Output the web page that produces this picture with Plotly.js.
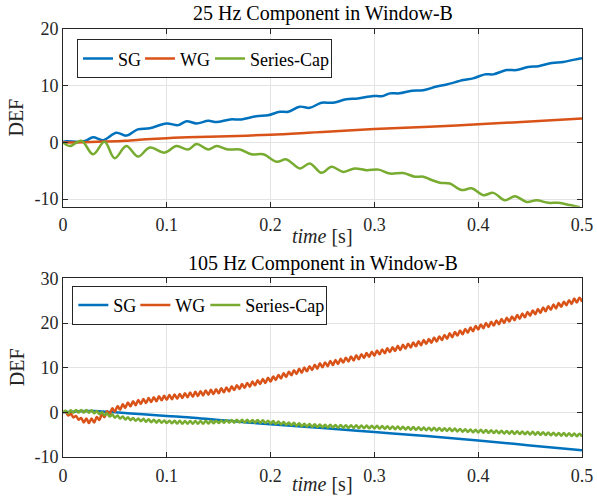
<!DOCTYPE html>
<html>
<head>
<meta charset="utf-8">
<script src="https://cdn.plot.ly/plotly-3.0.1.min.js"></script>
<style>html,body{margin:0;padding:0;background:#fff;}#chart{width:597px;height:497px;}</style>
</head>
<body>
<div id="chart"></div>
<script>
// ---------- Top panel: 25 Hz component ----------
var topSG_t = [0, 0.0032, 0.016, 0.022, 0.029, 0.0386, 0.0514, 0.061, 0.072, 0.0836, 0.0997, 0.111, 0.119, 0.1286, 0.14, 0.148, 0.161, 0.172, 0.186, 0.1976, 0.209, 0.217, 0.228, 0.2378, 0.249, 0.26, 0.273, 0.284, 0.299, 0.307, 0.315, 0.324, 0.336, 0.347, 0.36, 0.3696, 0.3856, 0.395, 0.4065, 0.4145, 0.4274, 0.437, 0.448, 0.458, 0.471, 0.482, 0.498, 0.5];
var topSG_v = [0.1, 0.2, 0.1, 0.3, 0.9, 0.4, 1.7, 1.2, 2.3, 2.5, 3.35, 3.05, 3.75, 3.35, 3.8, 3.6, 4.05, 4.05, 4.6, 4.8, 5.4, 5.4, 6.3, 6.1, 7.0, 7.0, 7.6, 7.75, 8.2, 8.15, 8.65, 8.65, 9.1, 9.2, 9.85, 10.2, 11.0, 11.3, 12.0, 12.0, 12.75, 12.75, 13.3, 13.45, 14.0, 14.2, 14.8, 14.85];

var topWG_t = [0, 0.02, 0.04, 0.06, 0.08, 0.1, 0.12, 0.15, 0.2, 0.236, 0.25, 0.3, 0.353, 0.4, 0.45, 0.5];
var topWG_v = [0, 0.05, 0.15, 0.3, 0.55, 0.75, 0.9, 1.05, 1.35, 1.7, 1.85, 2.35, 2.75, 3.2, 3.7, 4.2];

var topSC_t = [0, 0.0065, 0.0177, 0.029, 0.040, 0.0498, 0.061, 0.0723, 0.0836, 0.098, 0.1093, 0.1205, 0.1286, 0.14, 0.148, 0.159, 0.1703, 0.1816, 0.193, 0.2057, 0.2153, 0.2282, 0.2378, 0.249, 0.2587, 0.27, 0.281, 0.2925, 0.304, 0.315, 0.3277, 0.339, 0.347, 0.3534, 0.363, 0.3727, 0.384, 0.3937, 0.405, 0.4145, 0.4258, 0.4354, 0.4467, 0.4563, 0.4675, 0.4772, 0.4884, 0.498];
var topSC_v = [0, -0.65, 0.3, -2.1, 0.1, -2.8, -0.65, -2.5, -0.9, -1.8, -0.65, -1.25, -0.3, -1.25, -0.65, -1.25, -1.25, -2.1, -2.1, -3.4, -3.0, -4.6, -3.7, -5.35, -4.3, -5.2, -4.6, -4.9, -4.8, -5.5, -5.4, -6.05, -6.05, -6.5, -7.1, -7.25, -8.4, -8.1, -9.3, -8.9, -10.2, -9.5, -10.5, -10.2, -10.65, -10.65, -11.05, -11.45];

// ---------- Bottom panel: 105 Hz component ----------
var botSG_t = [0, 0.015, 0.03, 0.045, 0.06, 0.077, 0.1, 0.12, 0.14, 0.16, 0.18, 0.2, 0.25, 0.3, 0.35, 0.4, 0.45, 0.5];
var botSG_v = [0, 0.25, 0.3, 0.1, -0.15, -0.4, -0.8, -1.1, -1.5, -1.9, -2.3, -2.65, -3.5, -4.4, -5.3, -6.3, -7.4, -8.5];

// sampled every 2.5 ms (ripple peaks / troughs)
var botStep = 0.0025;
var botWG_v = [0, 0.1, -0.7, -0.3, -1.15, -0.8, -1.65, -1.25, -2.25, -1.35, -2.4, -1.4, -2.25, -1.05, -1.7, -0.4, -1.1, 0.25, -0.4, 0.9,
 0.15, 1.4, 0.6, 1.8, 1.0, 2.2, 1.35, 2.5, 1.6, 2.75, 1.9, 3.0, 2.1, 3.2, 2.3, 3.4, 2.5, 3.6, 2.7, 3.75,
 2.8, 3.9, 2.95, 4.0, 3.05, 4.1, 3.2, 4.3, 3.4, 4.45, 3.5, 4.6, 3.65, 4.75, 3.8, 4.9, 3.95, 5.05, 4.1, 5.2,
 4.3, 5.4, 4.5, 5.6, 4.7, 5.85, 5.0, 6.1, 5.25, 6.35, 5.5, 6.6, 5.75, 6.9, 6.05, 7.2, 6.35, 7.5, 6.6, 7.75,
 6.9, 8.05, 7.25, 8.4, 7.6, 8.75, 7.95, 9.1, 8.3, 9.45, 8.6, 9.75, 8.9, 10.05, 9.2, 10.35, 9.5, 10.65, 9.8, 11.0,
 10.1, 11.2, 10.35, 11.5, 10.6, 11.75, 10.85, 12.0, 11.15, 12.25, 11.4, 12.5, 11.65, 12.8, 11.9, 13.05, 12.2, 13.3, 12.45, 13.6,
 12.7, 13.85, 13.0, 14.1, 13.25, 14.35, 13.5, 14.6, 13.75, 14.9, 14.0, 15.15, 14.3, 15.4, 14.55, 15.65, 14.8, 15.95, 15.05, 16.2,
 15.35, 16.45, 15.6, 16.75, 15.9, 17.0, 16.2, 17.35, 16.5, 17.7, 16.85, 18.0, 17.2, 18.35, 17.5, 18.7, 17.85, 19.0, 18.2, 19.35,
 18.55, 19.7, 18.85, 20.0, 19.15, 20.3, 19.45, 20.6, 19.75, 20.9, 20.05, 21.2, 20.35, 21.5, 20.65, 21.8, 21.0, 22.15, 21.3, 22.5,
 21.65, 22.8, 22.0, 23.15, 22.3, 23.5, 22.65, 23.8, 23.0, 24.15, 23.3, 24.5, 23.65, 24.8, 24.0, 25.15, 24.3, 25.5, 24.6, 25.7,
 24.8];
var botSC_v = [0, 0.35, -0.2, 0.45, -0.1, 0.55, -0.05, 0.55, -0.05, 0.55, -0.1, 0.45, -0.2, 0.3, -0.4, 0.05, -0.65, -0.2, -0.95, -0.5,
 -1.2, -0.7, -1.4, -0.9, -1.6, -1.1, -1.75, -1.25, -1.9, -1.35, -2.0, -1.45, -2.1, -1.55, -2.2, -1.65, -2.3, -1.7, -2.35, -1.8,
 -2.4, -1.85, -2.45, -1.9, -2.5, -1.9, -2.55, -1.95, -2.55, -1.95, -2.55, -1.95, -2.55, -1.95, -2.55, -1.9, -2.5, -1.9, -2.45, -1.85,
 -2.4, -1.8, -2.35, -1.75, -2.3, -1.7, -2.3, -1.65, -2.25, -1.65, -2.25, -1.65, -2.25, -1.7, -2.3, -1.7, -2.35, -1.75, -2.4, -1.85,
 -2.5, -1.95, -2.6, -2.05, -2.7, -2.15, -2.8, -2.25, -2.9, -2.35, -3.0, -2.45, -3.1, -2.55, -3.15, -2.6, -3.25, -2.65, -3.3, -2.7,
 -3.35, -2.76, -3.38, -2.79, -3.4, -2.81, -3.43, -2.84, -3.45, -2.86, -3.48, -2.89, -3.5, -2.91, -3.53, -2.94, -3.55, -2.96, -3.58, -2.99,
 -3.6, -3.02, -3.64, -3.06, -3.68, -3.1, -3.72, -3.14, -3.76, -3.18, -3.8, -3.22, -3.84, -3.26, -3.88, -3.3, -3.92, -3.34, -3.96, -3.38,
 -4.0, -3.42, -4.04, -3.46, -4.08, -3.5, -4.12, -3.54, -4.15, -3.58, -4.21, -3.64, -4.27, -3.7, -4.33, -3.76, -4.39, -3.82, -4.45, -3.87,
 -4.5, -3.92, -4.55, -3.97, -4.59, -4.01, -4.64, -4.06, -4.68, -4.1, -4.73, -4.15, -4.77, -4.19, -4.82, -4.24, -4.86, -4.28, -4.91, -4.33,
 -4.95, -4.37, -5.0, -4.42, -5.04, -4.46, -5.09, -4.51, -5.13, -4.55, -5.18, -4.6, -5.22, -4.64, -5.27, -4.69, -5.31, -4.73, -5.36, -4.78,
 -5.4];
var botGrid = [];
for (var i = 0; i < botWG_v.length; i++) botGrid.push(+(i * botStep).toFixed(4));

// ---------- labels / ticks ----------
var seriesNames = ['SG', 'WG', 'Series-Cap'];
var seriesColors = ['#0072BD', '#D95319', '#77AC30'];
var legendWidths = [17, 25, 76];
var xTickVals = [0, 0.1, 0.2, 0.3, 0.4, 0.5];
var xTickText = ['0', '0.1', '0.2', '0.3', '0.4', '0.5'];
var yTopTickVals = [-10, 0, 10, 20];
var yTopTickText = ['-10', '0', '10', '20'];
var yBotTickVals = [-10, 0, 10, 20, 30];
var yBotTickText = ['-10', '0', '10', '20', '30'];
var titleTop = '25 Hz Component in Window-B';
var titleBot = '105 Hz Component in Window-B';

var FONT = '"Liberation Serif", serif';
var AXC = '#262626';

function tr(x, y, k, xa, ya, leg) {
  return {x: x, y: y, type: 'scatter', mode: 'lines', name: seriesNames[k],
    xaxis: xa, yaxis: ya, legend: leg, legendwidth: legendWidths[k],
    line: {color: seriesColors[k], width: 2.5, shape: 'spline', smoothing: 1, simplify: false},
    hoverinfo: 'skip'};
}

var data = [
  tr(topSG_t, topSG_v, 0, 'x', 'y', 'legend'),
  tr(topWG_t, topWG_v, 1, 'x', 'y', 'legend'),
  tr(topSC_t, topSC_v, 2, 'x', 'y', 'legend'),
  tr(botSG_t, botSG_v, 0, 'x2', 'y2', 'legend2'),
  tr(botGrid, botWG_v, 1, 'x2', 'y2', 'legend2'),
  tr(botGrid, botSC_v, 2, 'x2', 'y2', 'legend2')
];

function xax(anchor) {
  return {domain: [0, 1], anchor: anchor, range: [0, 0.5], tickmode: 'array', tickvals: xTickVals, ticktext: xTickText,
    ticks: 'inside', ticklen: 5, tickcolor: AXC, showline: true, linecolor: AXC, linewidth: 1, mirror: 'ticks',
    showgrid: true, gridcolor: '#e3e3e3', gridwidth: 1, zeroline: false,
    tickfont: {family: FONT, size: 18, color: AXC}, ticklabelstandoff: 2};
}
function yax(anchor, dom, rng, tv, tt) {
  return {domain: dom, anchor: anchor, range: rng, tickmode: 'array', tickvals: tv, ticktext: tt,
    ticks: 'inside', ticklen: 5, tickcolor: AXC, showline: true, linecolor: AXC, linewidth: 1, mirror: 'ticks',
    showgrid: true, gridcolor: '#e3e3e3', gridwidth: 1, zeroline: false,
    tickfont: {family: FONT, size: 18, color: AXC}, ticklabelstandoff: 0};
}

var legStyle = {orientation: 'h', xanchor: 'left', yanchor: 'top', bgcolor: '#ffffff', bordercolor: AXC, borderwidth: 1,
  font: {family: FONT, size: 18, color: '#000'}, traceorder: 'normal'};

var layout = {
  width: 597, height: 497,
  margin: {l: 63, r: 15, t: 29, b: 40},
  paper_bgcolor: '#ffffff', plot_bgcolor: '#ffffff',
  showlegend: true,
  font: {family: FONT},
  xaxis: xax('y'),
  yaxis: yax('x', [0.5845, 1], [-11.36, 20], yTopTickVals, yTopTickText),
  xaxis2: xax('y2'),
  yaxis2: yax('x2', [0, 0.4171], [-10, 30], yBotTickVals, yBotTickText),
  legend: Object.assign({}, legStyle, {x: 0.027, y: 0.976}),
  legend2: Object.assign({}, legStyle, {x: 0.018, y: 0.40}),
  annotations: [
    {text: titleTop, xref: 'paper', yref: 'paper', x: 0.5, y: (456.7 - 14) / 427.7, xanchor: 'center', yanchor: 'middle', showarrow: false, font: {family: FONT, size: 20, color: '#000'}},
    {text: titleBot, xref: 'paper', yref: 'paper', x: 0.5, y: (456.7 - 263) / 427.7, xanchor: 'center', yanchor: 'middle', showarrow: false, font: {family: FONT, size: 20, color: '#000'}},
    {text: '<i>time</i> [s]', xref: 'paper', yref: 'paper', x: 0.5, y: (456.7 - 236) / 427.7, xanchor: 'center', yanchor: 'middle', showarrow: false, font: {family: FONT, size: 20, color: AXC}},
    {text: '<i>time</i> [s]', xref: 'paper', yref: 'paper', x: 0.5, y: (456.7 - 484) / 427.7, xanchor: 'center', yanchor: 'middle', showarrow: false, font: {family: FONT, size: 20, color: AXC}},
    {text: 'DEF', xref: 'paper', yref: 'paper', x: (16.5 - 63) / 519, y: (456.7 - 118) / 427.7, xanchor: 'center', yanchor: 'middle', textangle: -90, showarrow: false, font: {family: FONT, size: 20, color: AXC}},
    {text: 'DEF', xref: 'paper', yref: 'paper', x: (16.5 - 63) / 519, y: (456.7 - 367.5) / 427.7, xanchor: 'center', yanchor: 'middle', textangle: -90, showarrow: false, font: {family: FONT, size: 20, color: AXC}}
  ]
};

Plotly.newPlot('chart', data, layout, {staticPlot: true, displayModeBar: false});
</script>
</body>
</html>
